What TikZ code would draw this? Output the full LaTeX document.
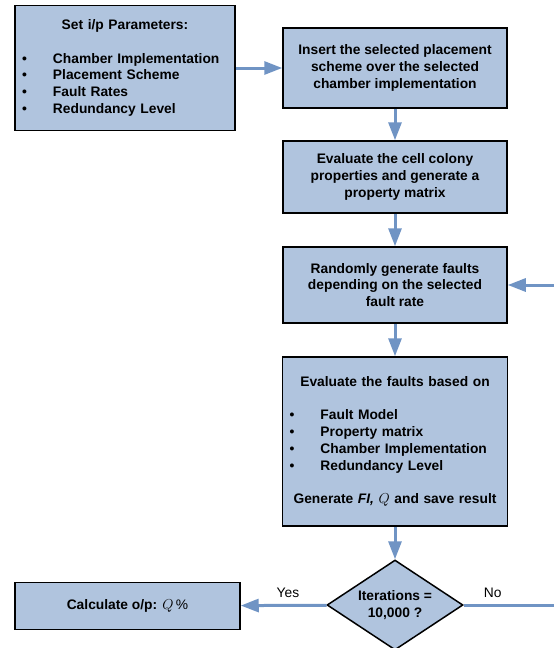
\documentclass[tikz,border=0pt]{standalone}
\usepackage{fontspec}
\setmainfont{Liberation Sans}
\usetikzlibrary{shapes.geometric,arrows.meta}
\definecolor{boxfill}{RGB}{176,196,222}
\definecolor{flowblue}{RGB}{112,148,196}
\newcommand{\bitem}[1]{\makebox[\hsize][l]{\hspace{7pt}\makebox[31pt][l]{\textbullet}#1}}

\begin{document}
\begin{tikzpicture}[x=1pt, y=-1pt,
  box/.style={draw=black, line width=1.5pt, fill=boxfill, inner sep=0pt, align=center, font=\bfseries\fontsize{13.8}{16.8}\selectfont},
  flow/.style={draw=flowblue, line width=3pt, -{Triangle[length=18pt,width=13pt]}},
  flowline/.style={draw=flowblue, line width=3pt},
  lbl/.style={font=\fontsize{13.8}{16.8}\selectfont}]
  \useasboundingbox (0,0) rectangle (554,648);
  \node[box, minimum width=220pt, minimum height=125pt, text width=220pt] (params) at (125,68) {Set i/p Parameters:\\[16.8pt]
    \bitem{Chamber Implementation}\\
    \bitem{Placement Scheme}\\
    \bitem{Fault Rates}\\
    \bitem{Redundancy Level}};
  \node[box, minimum width=224pt, minimum height=80pt] (insert) at (395,68) {Insert the selected placement\\scheme over the selected\\chamber implementation};
  \node[box, minimum width=224pt, minimum height=72pt] (colony) at (395,177) {Evaluate the cell colony\\properties and generate a\\property matrix};
  \node[box, minimum width=224pt, minimum height=76pt] (faults) at (395,285) {Randomly generate faults\\depending on the selected\\fault rate};
  \node[box, minimum width=225pt, minimum height=169pt, text width=225pt] (evaluate) at (395,441.5) {Evaluate the faults based on\\[16.8pt]
    \bitem{Fault Model}\\
    \bitem{Property matrix}\\
    \bitem{Chamber Implementation}\\
    \bitem{Redundancy Level}\\[16.8pt]
    Generate \textit{FI,} $Q$ and save result};
  \node[box, diamond, shape aspect=1.5, minimum width=136pt, minimum height=90pt] (iter) at (395,605) {Iterations =\\10,000 ?};
  \node[box, minimum width=225pt, minimum height=47pt] (result) at (127.5,606) {Calculate o/p: $Q\,\%$};
  \coordinate (loopin) at (554,285);
  \coordinate (noend) at (554,605);
  \draw[flow] (params) -- (insert);
  \draw[flow] (insert) -- (colony);
  \draw[flow] (colony) -- (faults);
  \draw[flow] (faults) -- (evaluate);
  \draw[flow] (evaluate) -- (iter);
  \draw[flow] (iter) -- node[lbl, above=3pt, pos=0.45] {Yes} (result);
  \draw[flowline] (iter) -- node[lbl, above=3pt, pos=0.32] {No} (noend);
  \draw[flow] (loopin) -- (faults);
\end{tikzpicture}
\end{document}
